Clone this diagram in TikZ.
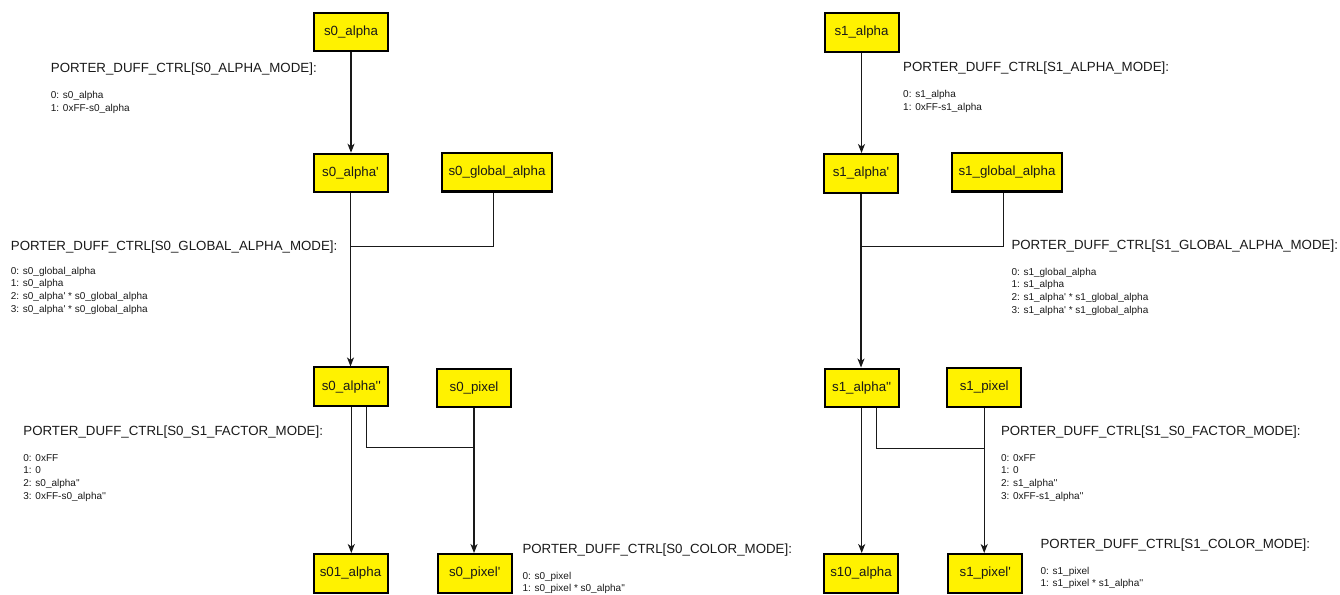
\documentclass[tikz,border=0pt]{standalone}
\usepackage{fontspec}
\setmainfont{Liberation Sans}
\usetikzlibrary{arrows.meta}
\newcommand{\pq}{\textquotesingle}
\begin{document}
\begin{tikzpicture}[x=1pt,y=-1pt,
  box/.style={draw=black,line width=2pt,fill=yellow,minimum width=74pt,minimum height=38.5pt,inner sep=0pt,text=black!90,font=\fontsize{13.3}{16}\selectfont},
  wide/.style={box,minimum width=110pt,line width=2.4pt},
  ln/.style={draw=black!90,line width=1.3pt},
  arr/.style={ln,-{Stealth[length=9pt,width=7pt,inset=2.5pt]}},
  ttl/.style={anchor=base west,inner sep=0pt,text=black!90,font=\fontsize{13.3}{16}\selectfont},
  lst/.style={anchor=base west,inner sep=0pt,text=black!90,font=\fontsize{10}{12.6}\selectfont},
]
\useasboundingbox (0,0) rectangle (1340,594);

% ---------- left column ----------
\node[box] (s0a)   at (351,32.2)   {s0\_alpha};
\node[box] (s0ap)  at (350.5,173)  {s0\_alpha\pq};
\node[wide] (s0ga) at (497,172.3)  {s0\_global\_alpha};
\node[box] (s0app) at (351.3,386.7) {s0\_alpha\pq\pq};
\node[box] (s0px)  at (474,387.8)  {s0\_pixel};
\node[box] (s01a)  at (350.5,573.3) {s01\_alpha};
\node[box] (s0pxp) at (474.7,573.3) {s0\_pixel\pq};

\node[ttl] (t0a) at (50.7,72.5) {PORTER\_DUFF\_CTRL[S0\_ALPHA\_MODE]:};
\node[lst] (l0a) at (50.7,98.6) {\begin{tabular}[t]{@{}l@{}}0: s0\_alpha\\1: 0xFF-s0\_alpha\end{tabular}};
\node[ttl] (t0g) at (10.7,250.2) {PORTER\_DUFF\_CTRL[S0\_GLOBAL\_ALPHA\_MODE]:};
\node[lst] (l0g) at (10.7,274.3) {\begin{tabular}[t]{@{}l@{}}0: s0\_global\_alpha\\1: s0\_alpha\\2: s0\_alpha\pq{} * s0\_global\_alpha\\3: s0\_alpha\pq{} * s0\_global\_alpha\end{tabular}};
\node[ttl] (t0f) at (23.2,435.7) {PORTER\_DUFF\_CTRL[S0\_S1\_FACTOR\_MODE]:};
\node[lst] (l0f) at (23.2,461.3) {\begin{tabular}[t]{@{}l@{}}0: 0xFF\\1: 0\\2: s0\_alpha\pq\pq\\3: 0xFF-s0\_alpha\pq\pq\end{tabular}};
\node[ttl] (t0c) at (522.3,553.4) {PORTER\_DUFF\_CTRL[S0\_COLOR\_MODE]:};
\node[lst] (l0c) at (522.3,579) {\begin{tabular}[t]{@{}l@{}}0: s0\_pixel\\1: s0\_pixel * s0\_alpha\pq\pq\end{tabular}};

\coordinate (j0) at (350.5,246.7);
\coordinate (j1) at (474.3,447.3);
\draw[arr] (s0a.south) -- (s0a.south |- s0ap.north);
\draw[arr] (s0ap.south) -- (s0ap.south |- s0app.north);
\draw[ln] ([xshift=-3.7pt]s0ga.south) |- (j0);
\draw[arr] (s0app.south) -- (s0app.south |- s01a.north);
\draw[ln] ([xshift=15pt]s0app.south) |- (j1);
\draw[arr] (s0px.south) -- (s0px.south |- s0pxp.north);

% ---------- right column ----------
\node[box] (s1a)   at (861.5,32.3)  {s1\_alpha};
\node[box] (s1ap)  at (861,173.3)   {s1\_alpha\pq};
\node[wide] (s1ga) at (1007,172.3)  {s1\_global\_alpha};
\node[box] (s1app) at (861.7,387.8) {s1\_alpha\pq\pq};
\node[box] (s1px)  at (984.2,387.5) {s1\_pixel};
\node[box] (s10a)  at (861,573.3)   {s10\_alpha};
\node[box] (s1pxp) at (985.3,573.3) {s1\_pixel\pq};

\node[ttl] (t1a) at (903,71.4) {PORTER\_DUFF\_CTRL[S1\_ALPHA\_MODE]:};
\node[lst] (l1a) at (903,97.6) {\begin{tabular}[t]{@{}l@{}}0: s1\_alpha\\1: 0xFF-s1\_alpha\end{tabular}};
\node[ttl] (t1g) at (1011.3,249) {PORTER\_DUFF\_CTRL[S1\_GLOBAL\_ALPHA\_MODE]:};
\node[lst] (l1g) at (1011.3,275.3) {\begin{tabular}[t]{@{}l@{}}0: s1\_global\_alpha\\1: s1\_alpha\\2: s1\_alpha\pq{} * s1\_global\_alpha\\3: s1\_alpha\pq{} * s1\_global\_alpha\end{tabular}};
\node[ttl] (t1f) at (1000.8,435.5) {PORTER\_DUFF\_CTRL[S1\_S0\_FACTOR\_MODE]:};
\node[lst] (l1f) at (1000.8,461.3) {\begin{tabular}[t]{@{}l@{}}0: 0xFF\\1: 0\\2: s1\_alpha\pq\pq\\3: 0xFF-s1\_alpha\pq\pq\end{tabular}};
\node[ttl] (t1c) at (1040.4,548) {PORTER\_DUFF\_CTRL[S1\_COLOR\_MODE]:};
\node[lst] (l1c) at (1040.4,574.3) {\begin{tabular}[t]{@{}l@{}}0: s1\_pixel\\1: s1\_pixel * s1\_alpha\pq\pq\end{tabular}};

\coordinate (j2) at (860.5,246.7);
\coordinate (j3) at (985,448.3);
\draw[arr] (s1a.south) -- (s1a.south |- s1ap.north);
\draw[arr] (s1ap.south) -- (s1ap.south |- s1app.north);
\draw[ln] ([xshift=-3.7pt]s1ga.south) |- (j2);
\draw[arr] (s1app.south) -- (s1app.south |- s10a.north);
\draw[ln] ([xshift=15pt]s1app.south) |- (j3);
\draw[arr] (s1px.south) -- (s1px.south |- s1pxp.north);
\end{tikzpicture}
\end{document}
